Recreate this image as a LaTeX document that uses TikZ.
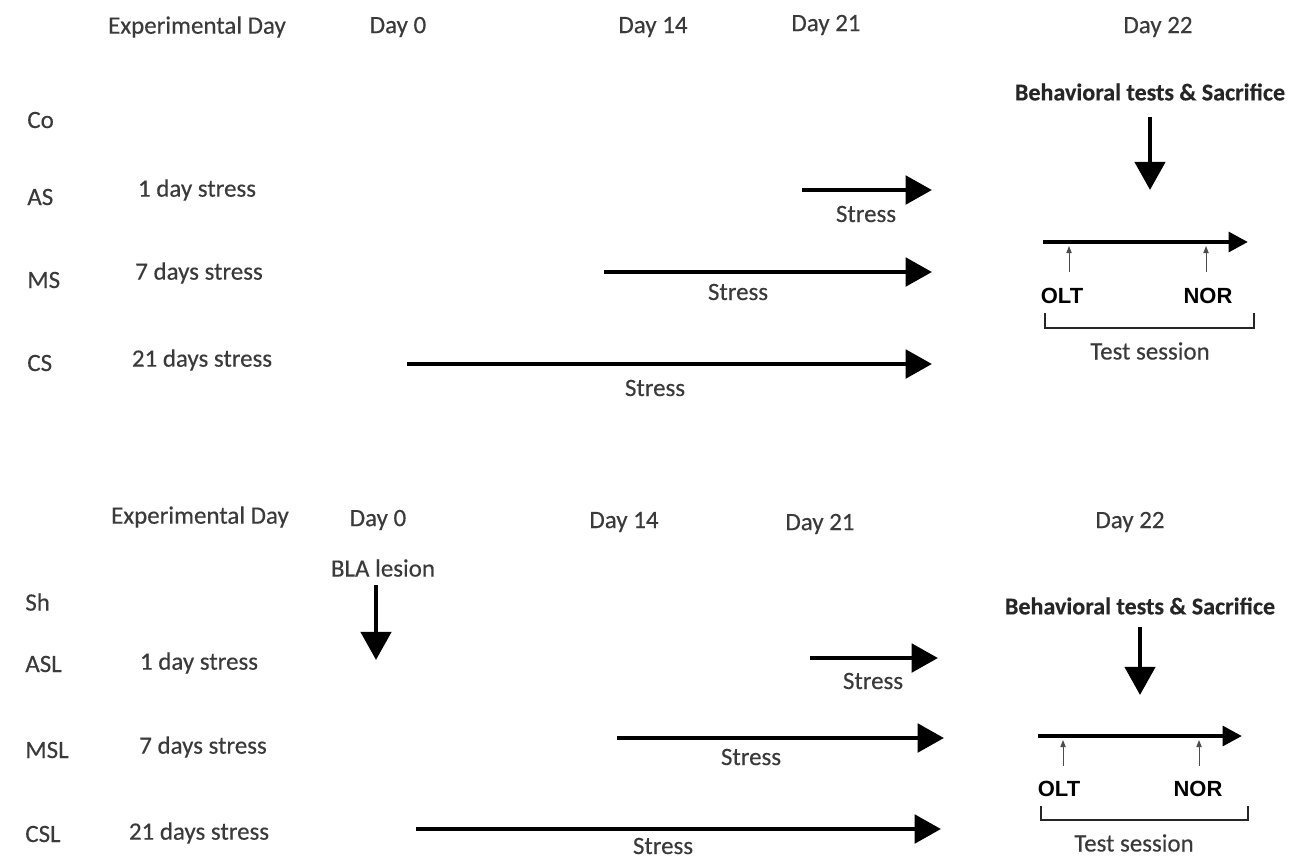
\documentclass[tikz,border=0pt]{standalone}
\usepackage{fontspec}
\setmainfont{Carlito}[FakeBold=0.35]
\newfontfamily\arialfont{Liberation Sans}
\usetikzlibrary{arrows.meta}
\definecolor{txtgray}{HTML}{3A3A3A}
\tikzset{
  lbl/.style={text=txtgray,font=\fontsize{14.2}{16}\selectfont,inner sep=0pt},
  grp/.style={lbl,anchor=west},
  hlbl/.style={lbl,font=\bfseries\fontsize{13.7}{16}\selectfont,text=black!85},
  tst/.style={font=\arialfont\bfseries\fontsize{12.5}{14}\selectfont,inner sep=0pt},
  bar/.style={line width=2.8pt,-{Triangle[length=15pt,width=16pt]}},
  tline/.style={line width=2.6pt,-{Triangle[length=11pt,width=11pt]}},
  down/.style={line width=2.8pt,-{Triangle[length=16pt,width=17pt]}},
  tick/.style={line width=0.5pt,black!70,-{Triangle[length=4pt,width=3pt]}},
  brk/.style={line width=1.4pt,black!85},
}
\begin{document}
\begin{tikzpicture}[x=0.02cm,y=-0.02cm]
\useasboundingbox (0,0) rectangle (1298,860);
% upper panel
\node[lbl](ed1)at(197,27){Experimental Day};
\node[lbl](d0u)at(398,27){Day 0};
\node[lbl](d14u)at(653,27){Day 14};
\node[lbl](d21u)at(826,25){Day 21};
\node[lbl](d22u)at(1158,27){Day 22};
\node[grp](co)at(27,120){Co};
\node[grp](as)at(27,197){AS};
\node[grp](ms)at(27,280){MS};
\node[grp](cs)at(27,363){CS};
\node[lbl](as1)at(197,190){1 day stress};
\node[lbl](ms1)at(199,273){7 days stress};
\node[lbl](cs1)at(202,360){21 days stress};
\coordinate(asa)at(802,190);\coordinate(asb)at(932,190);
\coordinate(msa)at(604,272);\coordinate(msb)at(932,272);
\coordinate(csa)at(407,364);\coordinate(csb)at(932,364);
\draw[bar](asa)--(asb);
\draw[bar](msa)--(msb);
\draw[bar](csa)--(csb);
\node[lbl](ass)at(866,214){Stress};
\node[lbl](mss)at(738,292){Stress};
\node[lbl](css)at(655,388){Stress};
\node[hlbl](btu)at(1150,92){Behavioral tests \& Sacrifice};
\coordinate(btue)at(1150,190);
\draw[down](1150,117)--(btue);
\coordinate(tla)at(1043,242);\coordinate(tlb)at(1248,242);
\draw[tline](tla)--(tlb);
\node[tst](oltu)at(1062,296){OLT};
\node[tst](noru)at(1208,296){NOR};
\coordinate(o1)at(1069,246);\coordinate(n1)at(1206,246);
\draw[tick](1069,272)--(o1);
\draw[tick](1206,272)--(n1);
\draw[brk](1045,313)--(1045,328)--(1254,328)--(1254,313);
\node[lbl](tsu)at(1150,351){Test session};
% lower panel
\node[lbl](ed2)at(200,517){Experimental Day};
\node[lbl](d0l)at(378,520){Day 0};
\node[lbl](d14l)at(624,522){Day 14};
\node[lbl](d21l)at(820,524){Day 21};
\node[lbl](d22l)at(1130,522){Day 22};
\node[lbl](bla)at(383,568){BLA lesion};
\coordinate(blae)at(376,660);
\draw[down](376,585)--(blae);
\node[grp](sh)at(25,602){Sh};
\node[grp](asl)at(25,664){ASL};
\node[grp](msl)at(25,750){MSL};
\node[grp](csl)at(25,834){CSL};
\node[lbl](asl1)at(199,663){1 day stress};
\node[lbl](msl1)at(203,747){7 days stress};
\node[lbl](csl1)at(199,833){21 days stress};
\coordinate(asla)at(810,658);\coordinate(aslb)at(938,658);
\coordinate(msla)at(617,738);\coordinate(mslb)at(944,738);
\coordinate(csla)at(416,829);\coordinate(cslb)at(941,829);
\draw[bar](asla)--(aslb);
\draw[bar](msla)--(mslb);
\draw[bar](csla)--(cslb);
\node[lbl](asls)at(873,681){Stress};
\node[lbl](msls)at(751,757){Stress};
\node[lbl](csls)at(663,846){Stress};
\node[hlbl](btl)at(1140,606){Behavioral tests \& Sacrifice};
\coordinate(btle)at(1140,695);
\draw[down](1140,627)--(btle);
\coordinate(tlc)at(1038,736);\coordinate(tld)at(1242,736);
\draw[tline](tlc)--(tld);
\node[tst](oltl)at(1059,789){OLT};
\node[tst](norl)at(1198,789){NOR};
\coordinate(o2)at(1063,740);\coordinate(n2)at(1199,740);
\draw[tick](1063,766)--(o2);
\draw[tick](1199,766)--(n2);
\draw[brk](1041,806)--(1041,820)--(1248,820)--(1248,806);
\node[lbl](tsl)at(1134,843){Test session};
\end{tikzpicture}
\end{document}
